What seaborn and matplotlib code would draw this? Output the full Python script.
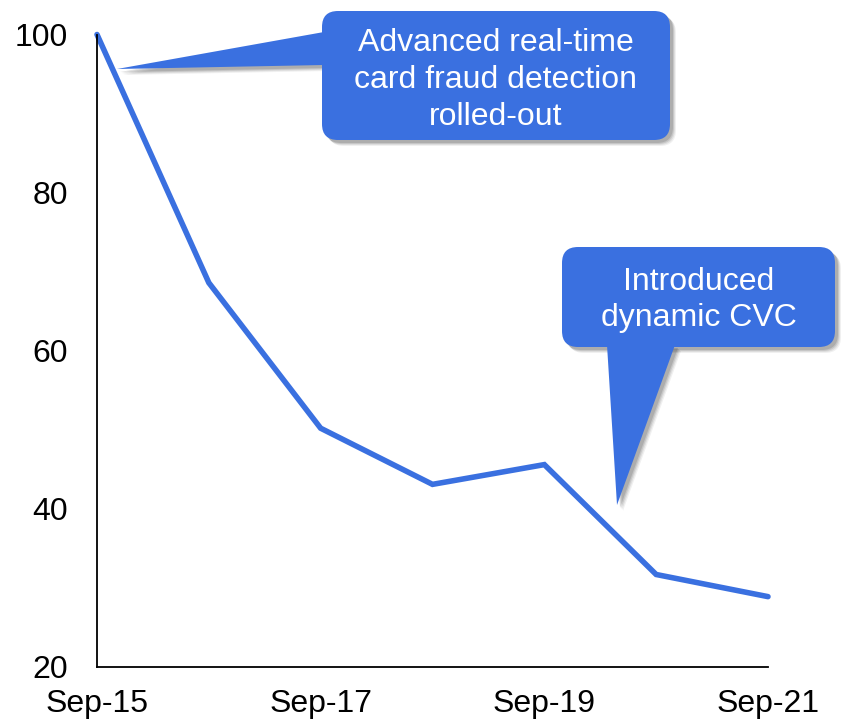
import matplotlib
matplotlib.use("Agg")
import matplotlib.pyplot as plt
import matplotlib.transforms as mtransforms
from matplotlib.patches import FancyBboxPatch, Polygon
import numpy as np
import pandas as pd
import seaborn as sns

# Fraud index, yearly readings
periods = ["Sep-15", "Sep-16", "Sep-17", "Sep-18", "Sep-19", "Sep-20", "Sep-21"]
fraud_index = [100, 68.6, 50.2, 43.1, 45.6, 31.7, 28.9]
y_ticks = [20, 40, 60, 80, 100]
x_tick_labels = ["Sep-15", "Sep-17", "Sep-19", "Sep-21"]

callout_top = "Advanced real-time\ncard fraud detection\nrolled-out"
callout_bottom = "Introduced\ndynamic CVC"

BLUE = "#3A70E0"
W, H = 846, 728

sns.set_theme(style="white")
plt.rcParams["font.family"] = ["Liberation Sans", "DejaVu Sans"]

df = pd.DataFrame({"pos": np.arange(len(periods)), "period": periods, "value": fraud_index})

fig = plt.figure(figsize=(W / 100, H / 100), dpi=100)
ax = fig.add_axes([97 / W, 1 - 667 / H, (768 - 97) / W, (667 - 34.5) / H])

sns.lineplot(data=df, x="pos", y="value", ax=ax, color=BLUE, linewidth=4.0,
             clip_on=False, solid_capstyle="round", solid_joinstyle="miter")

ax.set_xlim(0, len(periods) - 1)
ax.set_ylim(20, 100)
ax.set_yticks(y_ticks)
ax.set_yticklabels([str(v) for v in y_ticks])
tick_pos = [periods.index(lbl) for lbl in x_tick_labels]
ax.set_xticks(tick_pos)
ax.set_xticklabels(x_tick_labels)
ax.set_xlabel("")
ax.set_ylabel("")
ax.tick_params(axis="y", length=0, pad=21, labelsize=23, labelcolor="black")
ax.tick_params(axis="x", length=0, pad=16, labelsize=23, labelcolor="black")
for side in ("top", "right"):
    ax.spines[side].set_visible(False)
for side in ("left", "bottom"):
    ax.spines[side].set_color("black")
    ax.spines[side].set_linewidth(1.3)
ax.grid(False)

# pixel coordinates (origin top-left) -> display
px = mtransforms.Affine2D().scale(1 / 100, -1 / 100).translate(0, H / 100) + fig.dpi_scale_trans


def callout(box, tip_poly, text, text_xy):
    x0, y0, x1, y1 = box
    # soft drop shadow
    for off, a in [(6, 0.06), (5, 0.08), (4, 0.10), (3, 0.12)]:
        sh_box = FancyBboxPatch((x0 + off, y0 + off), x1 - x0, y1 - y0,
                                boxstyle="round,pad=0,rounding_size=16",
                                transform=px, facecolor="black", edgecolor="none",
                                alpha=a, zorder=4)
        fig.add_artist(sh_box)
        sh_tip = Polygon([(x + off, y + off) for x, y in tip_poly], closed=True,
                         transform=px, facecolor="black", edgecolor="none",
                         alpha=a, zorder=4)
        fig.add_artist(sh_tip)
    body = FancyBboxPatch((x0, y0), x1 - x0, y1 - y0,
                          boxstyle="round,pad=0,rounding_size=16",
                          transform=px, facecolor=BLUE, edgecolor="none", zorder=5)
    fig.add_artist(body)
    tip = Polygon(tip_poly, closed=True, transform=px, facecolor=BLUE,
                  edgecolor="none", zorder=5)
    fig.add_artist(tip)
    fig.text(text_xy[0], text_xy[1], text, transform=px, ha="center", va="center",
             color="white", fontsize=23, linespacing=1.3, zorder=6)


callout((322, 11, 670, 140), [(324, 32), (117, 69), (324, 65)], callout_top, (496, 80))
callout((562, 247, 835, 347), [(607, 345), (617, 505), (675, 345)], callout_bottom, (699, 300))

fig.savefig("out.png", dpi=100)
